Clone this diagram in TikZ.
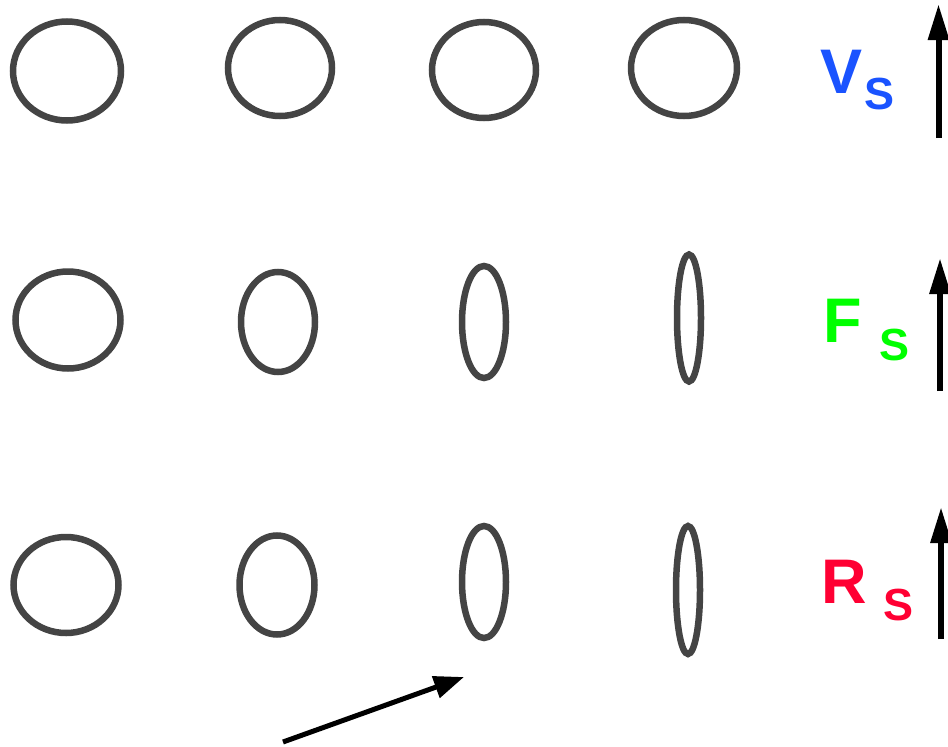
\documentclass[tikz,border=0pt]{standalone}
\usepackage{fontspec}
\setmainfont{Liberation Sans}
\usetikzlibrary{shapes.geometric,arrows.meta}
\definecolor{ringgray}{HTML}{444444}
\definecolor{vblue}{HTML}{1A53FF}
\definecolor{fgreen}{HTML}{00FF00}
\definecolor{rred}{HTML}{FF0033}
\tikzset{
  ring/.style n args={2}{draw=ringgray, line width=6.5pt, ellipse, inner sep=0pt, minimum width=#1pt, minimum height=#2pt},
  bigletter/.style={font=\fontsize{63}{63}\selectfont\bfseries, inner sep=0pt, anchor=base west},
  subletter/.style={font=\fontsize{45}{45}\selectfont\bfseries, inner sep=0pt, anchor=base west},
  uparrow/.style={line width=6pt, -{Triangle[length=36pt,width=20pt]}},
}
\begin{document}
\begin{tikzpicture}[x=1pt,y=-1pt]
\useasboundingbox (0,0) rectangle (948,747);
% row 1
\node[ring={108}{99}] (a1) at (67,71) {};
\node[ring={104}{96}] (a2) at (280,68) {};
\node[ring={104}{96}] (a3) at (484,70) {};
\node[ring={106}{96}] (a4) at (684,68) {};
% row 2
\node[ring={105}{97}] (b1) at (68,320) {};
\node[ring={74}{100}] (b2) at (278,322) {};
\node[ring={44}{112}] (b3) at (484,322) {};
\node[ring={24}{127}] (b4) at (689,318) {};
% row 3
\node[ring={105}{96}] (c1) at (66,585) {};
\node[ring={75}{99}] (c2) at (277,585) {};
\node[ring={44}{112}] (c3) at (484,582) {};
\node[ring={24}{128}] (c4) at (688,590) {};
% labels
\node[bigletter, text=vblue] (vl) at (820,93) {V};
\node[subletter, text=vblue] (vs) at (864,109) {S};
\node[bigletter, text=fgreen] (fl) at (823,342) {F};
\node[subletter, text=fgreen] (fs) at (879,360) {S};
\node[bigletter, text=rred] (rl) at (821,603) {R};
\node[subletter, text=rred] (rs) at (883,620) {S};
% vertical arrows
\coordinate (v0) at (938.5,138);
\coordinate (v1) at (938.5,4);
\coordinate (f0) at (940,391);
\coordinate (f1) at (940,258);
\coordinate (r0) at (941,639);
\coordinate (r1) at (941,507);
\draw[uparrow] (v0) -- (v1);
\draw[uparrow] (f0) -- (f1);
\draw[uparrow] (r0) -- (r1);
% bottom arrow
\coordinate (p0) at (283,742);
\coordinate (p1) at (464,677);
\draw[line width=5pt, -{Triangle[length=30pt,width=22pt]}] (p0) -- (p1);
\end{tikzpicture}
\end{document}
